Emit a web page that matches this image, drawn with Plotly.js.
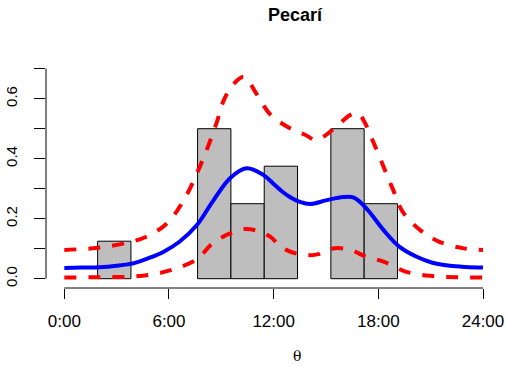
<!DOCTYPE html>
<html>
<head>
<meta charset="utf-8">
<script src="https://cdn.plot.ly/plotly-3.0.1.min.js"></script>
<style>html,body{margin:0;padding:0;background:#fff;}#chart{width:506px;height:367px;}</style>
</head>
<body>
<div id="chart"></div>
<script>
// Histogram bins (radians, width 0.5) and density heights
var binStartRad = [0.5, 1.0, 1.5, 2.0, 2.5, 3.0, 3.5, 4.0, 4.5, 5.0, 5.5, 6.0];
var binDensity  = [0.125, 0, 0, 0.5, 0.25, 0.375, 0, 0.5, 0.25, 0, 0, 0];
var binWidthRad = 0.5;

// Fitted density (blue), hours vs density
var fitHours = [0, 1, 2, 3, 4, 5, 5.7, 6.6, 7.6, 8.5, 9.5, 10.45, 11.4, 12.0, 12.5, 13.0, 13.5, 14.1, 15.0, 16.0, 16.6, 17.3, 18.3, 19.2, 20.2, 21.1, 22.1, 23, 24];
var fitDens  = [0.036, 0.037, 0.038, 0.043, 0.052, 0.072, 0.09, 0.123, 0.179, 0.257, 0.335, 0.368, 0.346, 0.316, 0.29, 0.27, 0.256, 0.249, 0.261, 0.272, 0.27, 0.235, 0.162, 0.107, 0.073, 0.053, 0.043, 0.039, 0.037];

// Upper band (red dashed)
var upHours = [0, 1.9, 3.6, 4.7, 5.9, 6.85, 7.6, 8.2, 8.75, 9.15, 9.7, 10.3, 11.0, 11.8, 13.1, 13.8, 14.4, 14.9, 15.6, 16.4, 16.85, 17.2, 17.7, 18.3, 18.85, 19.4, 20.4, 21.5, 22.9, 24];
var upDens  = [0.096, 0.103, 0.12, 0.14, 0.185, 0.262, 0.351, 0.435, 0.523, 0.596, 0.649, 0.673, 0.618, 0.548, 0.496, 0.48, 0.462, 0.475, 0.507, 0.546, 0.551, 0.523, 0.457, 0.373, 0.296, 0.223, 0.162, 0.123, 0.101, 0.096];

// Lower band (red dashed)
var loHours = [0, 2, 3.8, 5.1, 6.25, 7.6, 8.5, 9.5, 10.4, 11.2, 11.8, 12.55, 13.7, 14.5, 15.4, 16.4, 17.3, 18.3, 19.6, 21.1, 22.5, 24];
var loDens  = [0.004, 0.005, 0.007, 0.015, 0.031, 0.065, 0.118, 0.151, 0.166, 0.157, 0.14, 0.101, 0.079, 0.081, 0.101, 0.096, 0.073, 0.057, 0.023, 0.009, 0.005, 0.004];

var xTickVals = [0, 6, 12, 18, 24];
var xTickText = ['0:00', '6:00', '12:00', '18:00', '24:00'];
var yTickVals = [0, 0.1, 0.2, 0.3, 0.4, 0.5, 0.6, 0.7];
var yTickText = ['0.0', '', '0.2', '', '0.4', '', '0.6', ''];
var titleText = 'Pecarí';
var xLabel = 'θ';

var radToH = 24 / (2 * Math.PI);
var barX = [], barY = [];
for (var i = 0; i < binStartRad.length; i++) {
  if (binDensity[i] > 0) {
    barX.push((binStartRad[i] + binWidthRad / 2) * radToH);
    barY.push(binDensity[i]);
  }
}

var traces = [
  {type: 'bar', x: barX, y: barY, width: binWidthRad * radToH,
   marker: {color: '#BEBEBE', line: {color: '#000', width: 1}}, hoverinfo: 'skip'},
  {type: 'scatter', mode: 'lines', x: upHours, y: upDens,
   line: {color: '#FF0000', width: 4, dash: '12px,12px', shape: 'spline'}},
  {type: 'scatter', mode: 'lines', x: loHours, y: loDens,
   line: {color: '#FF0000', width: 4, dash: '12px,12px', shape: 'spline'}},
  {type: 'scatter', mode: 'lines', x: fitHours, y: fitDens,
   line: {color: '#0000FF', width: 4, shape: 'spline'}}
];

var pxPerH = 17.446, x0px = 64.3;
var yZeroPx = 278.7, pxPerUnit = 300;
var L = 46, R = 6, T = 60, B = 79;
var W = 506, H = 367;

var layout = {
  width: W, height: H,
  margin: {l: L, r: R, t: T, b: B, pad: 0},
  paper_bgcolor: '#fff', plot_bgcolor: '#fff',
  showlegend: false,
  bargap: 0,
  font: {family: 'Liberation Sans, Arial, sans-serif', color: '#000'},
  title: {text: '<b>' + titleText + '</b>', font: {size: 18, color: '#000'},
          xref: 'container', yref: 'container', x: 295 / W, y: 1 - 15 / H,
          xanchor: 'center', yanchor: 'middle'},
  xaxis: {
    range: [(L - x0px) / pxPerH, (W - R - x0px) / pxPerH],
    tickmode: 'array', tickvals: xTickVals, ticktext: xTickText,
    ticks: 'outside', ticklen: 10, tickwidth: 1, tickcolor: '#000',
    tickfont: {size: 17}, ticklabelstandoff: 8,
    showgrid: false, zeroline: false, showline: false, fixedrange: true
  },
  yaxis: {
    range: [(yZeroPx - (H - B)) / pxPerUnit, (yZeroPx - T) / pxPerUnit],
    tickmode: 'array', tickvals: yTickVals, ticktext: yTickText,
    ticks: 'outside', ticklen: 11, tickwidth: 1, tickcolor: '#000',
    tickfont: {size: 15}, tickangle: -90, ticklabelstandoff: 11,
    showgrid: false, zeroline: false, showline: false, fixedrange: true
  },
  shapes: [
    {type: 'line', xref: 'x', yref: 'paper', x0: 0, x1: 24, y0: 0, y1: 0, line: {color: '#000', width: 1}},
    {type: 'line', xref: 'paper', yref: 'y', x0: 0, x1: 0, y0: 0, y1: 0.7, line: {color: '#000', width: 1}}
  ],
  annotations: [
    {text: xLabel, xref: 'paper', yref: 'paper', x: (297 - L) / (W - L - R), y: -(366 - (H - B)) / (H - T - B),
     showarrow: false, xanchor: 'center', yanchor: 'bottom',
     font: {family: 'DejaVu Serif, serif', size: 14, color: '#000'}}
  ]
};

Plotly.newPlot('chart', traces, layout, {displayModeBar: false, staticPlot: true});
</script>
</body>
</html>
